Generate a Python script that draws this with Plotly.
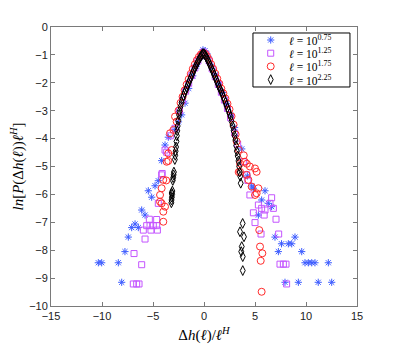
import plotly.graph_objects as go

# (x, y) points, one list per scale
blue_pts = [
    (-2.5, -3.4), (-2.19, -3.15), (-1.86, -2.73), (-1.5, -2.2), (-1.1, -1.75),
    (-0.75, -1.4), (-0.4, -1.08), (-0.1, -0.82), (0.1, -0.85), (0.4, -1.05),
    (0.75, -1.4), (1.1, -1.72), (1.45, -2.05), (1.8, -2.35), (2.2, -2.75),
    (2.6, -3.15), (3.0, -3.6),
    (-2.84, -3.67), (-3.5, -3.95), (-3.82, -4.23), (-4.15, -4.79), (-4.48, -5.51),
    (-4.8, -5.69), (-5.46, -5.87), (-5.13, -6.1), (-6.11, -6.56), (-5.78, -6.74),
    (-6.76, -7.06), (-7.09, -7.19), (-6.44, -7.19), (-7.42, -7.53), (-7.75, -8.05),
    (-10.36, -8.45), (-10.03, -8.45), (-8.4, -8.45), (-8.07, -9.15),
    (3.7, -4.37), (4.25, -5.34), (4.67, -5.7), (4.84, -5.78), (5.98, -5.87),
    (5.65, -6.2), (6.3, -6.32), (6.63, -6.44), (5.33, -6.74), (6.96, -7.53),
    (8.92, -7.53), (7.6, -7.77), (8.27, -7.77), (8.6, -7.77), (7.29, -8.05),
    (9.58, -8.05), (9.9, -8.45), (10.23, -8.45), (10.56, -8.45), (10.88, -8.45),
    (12.19, -8.45), (7.94, -9.15), (9.25, -9.15), (11.2, -9.15), (12.52, -9.15),
]

magenta_pts = [
    (-2.4, -3.0), (-2.1, -2.62), (-1.8, -2.3), (-1.5, -2.02), (-1.2, -1.74),
    (-0.9, -1.47), (-0.6, -1.22), (-0.3, -1.03), (-0.05, -0.9), (0.2, -0.98),
    (0.5, -1.22), (0.8, -1.5), (1.1, -1.78), (1.4, -2.06), (1.7, -2.34),
    (2.0, -2.62), (2.3, -2.92), (2.6, -3.25), (3.0, -3.8),
    (-2.84, -3.63), (-3.3, -3.9), (-3.66, -4.49), (-3.82, -4.41), (-4.15, -5.3),
    (-4.1, -5.25), (-4.48, -6.32), (-4.64, -6.9), (-5.36, -6.89), (-5.62, -7.12),
    (-5.29, -7.12), (-4.97, -7.12), (-4.64, -7.12), (-5.95, -7.28), (-5.2, -7.28),
    (-4.57, -7.28), (-5.78, -7.6), (-6.86, -8.12), (-6.11, -8.52), (-6.93, -9.21),
    (-6.6, -9.21), (-6.37, -9.21),
    (3.3, -4.2), (3.86, -4.83), (4.18, -5.3), (4.3, -5.5), (4.5, -6.02),
    (6.63, -6.12), (5.33, -6.38), (6.47, -6.32), (6.8, -6.5), (5.65, -6.5),
    (5.98, -6.56), (4.84, -6.66), (5.9, -6.74), (7.06, -6.89), (5.0, -7.01),
    (5.59, -7.42), (7.32, -7.42), (7.45, -8.5), (7.78, -8.5), (8.04, -8.5),
    (8.1, -9.21),
]

red_pts = [
    (-2.5, -3.0), (-2.3, -2.72), (-2.1, -2.5), (-1.9, -2.27), (-1.7, -2.06),
    (-1.5, -1.87), (-1.3, -1.68), (-1.1, -1.5), (-0.9, -1.34), (-0.7, -1.19),
    (-0.5, -1.07), (-0.3, -0.98), (-0.1, -0.93), (0.1, -0.96), (0.3, -1.05),
    (0.5, -1.18), (0.7, -1.33), (0.9, -1.5), (1.1, -1.67), (1.3, -1.85),
    (1.5, -2.03), (1.7, -2.21), (1.9, -2.38), (2.1, -2.56), (2.3, -2.75),
    (2.5, -2.95), (2.7, -3.2), (2.9, -3.5), (3.1, -3.85),
    (-2.84, -3.21), (-2.68, -3.39), (-3.0, -3.69), (-3.33, -3.81), (-3.17, -4.41),
    (-3.5, -4.53), (-3.66, -4.83), (-3.5, -4.8), (-3.7, -5.5), (-3.99, -5.48),
    (-4.15, -5.78), (-4.31, -6.02), (-4.31, -6.26), (-4.15, -6.32), (-3.82, -6.44),
    (-3.99, -6.62), (-3.99, -6.98),
    (3.2, -4.1), (3.4, -4.4), (3.9, -4.6), (3.53, -4.89), (4.0, -4.83),
    (4.2, -4.9), (4.5, -5.0), (5.0, -5.07), (3.4, -5.2), (4.18, -5.3),
    (3.53, -5.19), (4.35, -5.48), (4.67, -5.72), (5.16, -5.96), (5.16, -5.19),
    (5.33, -5.78), (5.0, -6.02), (5.42, -7.28), (5.49, -7.87), (5.72, -8.11),
    (5.56, -8.38), (5.65, -9.49),
]

black_pts = [
    (-3.2, -6.3), (-3.18, -6.2), (-3.15, -6.1), (-3.12, -6.0), (-3.17, -5.95),
    (-3.1, -5.88), (-3.06, -5.5), (-3.02, -5.4), (-2.98, -5.3), (-2.95, -5.2),
    (-2.86, -4.75), (-2.82, -4.6), (-2.78, -4.45), (-2.74, -4.3), (-2.7, -4.1),
    (-2.66, -3.9), (-2.62, -3.72), (-2.58, -3.55), (-2.52, -3.35), (-2.45, -3.15),
    (-2.4, -3.02), (-2.3, -2.85), (-2.2, -2.7), (-2.1, -2.56), (-2.0, -2.46),
    (-1.9, -2.36), (-1.8, -2.27), (-1.7, -2.18), (-1.6, -2.09), (-1.5, -2.0),
    (-1.4, -1.91), (-1.3, -1.82), (-1.2, -1.73), (-1.1, -1.64), (-1.0, -1.55),
    (-0.9, -1.47), (-0.8, -1.4), (-0.7, -1.32), (-0.6, -1.24), (-0.5, -1.17),
    (-0.4, -1.1), (-0.3, -1.05), (-0.2, -0.99), (-0.1, -0.95), (0.0, -0.96),
    (0.1, -1.0), (0.2, -1.06), (0.3, -1.13), (0.4, -1.2), (0.5, -1.28),
    (0.6, -1.37), (0.7, -1.45), (0.8, -1.53), (0.9, -1.62), (1.0, -1.71),
    (1.1, -1.8), (1.2, -1.89), (1.3, -1.98), (1.4, -2.07), (1.5, -2.16),
    (1.6, -2.24), (1.7, -2.32), (1.8, -2.4), (1.9, -2.5), (2.0, -2.6),
    (2.1, -2.7), (2.2, -2.8), (2.3, -2.9), (2.4, -3.0), (2.5, -3.1),
    (2.6, -3.22), (2.7, -3.38), (2.8, -3.55), (2.9, -3.72), (3.0, -3.9),
    (3.08, -4.05), (3.15, -4.25), (3.22, -4.45), (3.3, -4.62), (3.38, -4.8),
    (3.45, -5.0), (3.5, -5.2), (3.55, -5.35), (3.6, -5.6),
    (3.79, -7.04), (3.53, -7.34), (3.92, -7.52), (3.7, -7.87), (3.65, -8.05),
    (3.8, -8.23), (3.8, -8.73),
]

legend_labels = [
    "<i>ℓ</i> = 10<sup>0.75</sup>",
    "<i>ℓ</i> = 10<sup>1.25</sup>",
    "<i>ℓ</i> = 10<sup>1.75</sup>",
    "<i>ℓ</i> = 10<sup>2.25</sup>",
]

series = [
    (blue_pts, "asterisk-open", "#3d5cff", 6),
    (magenta_pts, "square-open", "#c455ff", 6),
    (red_pts, "circle-open", "#ff2a2a", 7),
    (black_pts, "diamond-tall-open", "#000000", 7),
]

fig = go.Figure()
for label, (pts, symbol, color, size) in zip(legend_labels, series):
    fig.add_trace(go.Scatter(
        x=[p[0] for p in pts], y=[p[1] for p in pts],
        mode="markers", name=label, showlegend=False,
        marker=dict(symbol=symbol, size=size, color=color,
                    line=dict(color=color, width=1)),
    ))

# compact MATLAB-like legend: box, key symbols on a hidden overlay axis, text annotations
leg_x0, leg_x1, leg_y0, leg_y1 = 0.66, 0.977, 0.785, 0.9785
key_x, text_x = 0.718, 0.772
row_y = [0.9534, 0.9061, 0.8588, 0.8115]

fig.add_shape(type="rect", xref="paper", yref="paper",
              x0=leg_x0, x1=leg_x1, y0=leg_y0, y1=leg_y1,
              line=dict(color="black", width=1), fillcolor="white", layer="below")
for i, (label, (pts, symbol, color, size)) in enumerate(zip(legend_labels, series)):
    fig.add_trace(go.Scatter(
        x=[key_x], y=[row_y[i]], xaxis="x2", yaxis="y2", mode="markers",
        showlegend=False, hoverinfo="skip",
        marker=dict(symbol=symbol, size=size, color=color,
                    line=dict(color=color, width=1)),
    ))
    fig.add_annotation(x=text_x, y=row_y[i], xref="paper", yref="paper",
                       text=label, showarrow=False, xanchor="left", yanchor="middle",
                       height=12, valign="middle",
                       font=dict(family="Liberation Serif", size=11.5, color="black"))

axis_style = dict(
    showgrid=False, zeroline=False, showline=True, mirror="ticks", automargin=False,
    linecolor="#7a7a7a", linewidth=1, ticks="inside", ticklen=4,
    tickcolor="#7a7a7a", tickfont=dict(family="Liberation Sans", size=11, color="#222222"),
)

# page body has an 8px default margin, so the figure is shrunk and margins shifted by 8
fig.update_layout(
    width=391, height=338,
    margin=dict(l=43, r=42, t=19, b=40),
    paper_bgcolor="white", plot_bgcolor="white",
    font=dict(family="Liberation Serif", color="black"),
    showlegend=False,
    xaxis=dict(range=[-15, 15], tickvals=[-15, -10, -5, 0, 5, 10, 15],
               title=dict(text="Δ<i>h</i>(<i>ℓ</i>)/<i>ℓ</i><sup><i>H</i></sup>",
                          font=dict(family="Liberation Serif", size=15), standoff=8),
               **axis_style),
    yaxis=dict(range=[-10, 0], dtick=1,
               title=dict(text="<i>ln</i>[<i>P</i>(Δ<i>h</i>(<i>ℓ</i>))<i>ℓ</i><sup><i>H</i></sup>]",
                          font=dict(family="Liberation Serif", size=15), standoff=2),
               **axis_style),
    xaxis2=dict(overlaying="x", range=[0, 1], visible=False, fixedrange=True),
    yaxis2=dict(overlaying="y", range=[0, 1], visible=False, fixedrange=True),
)

fig.write_html("out.html")
